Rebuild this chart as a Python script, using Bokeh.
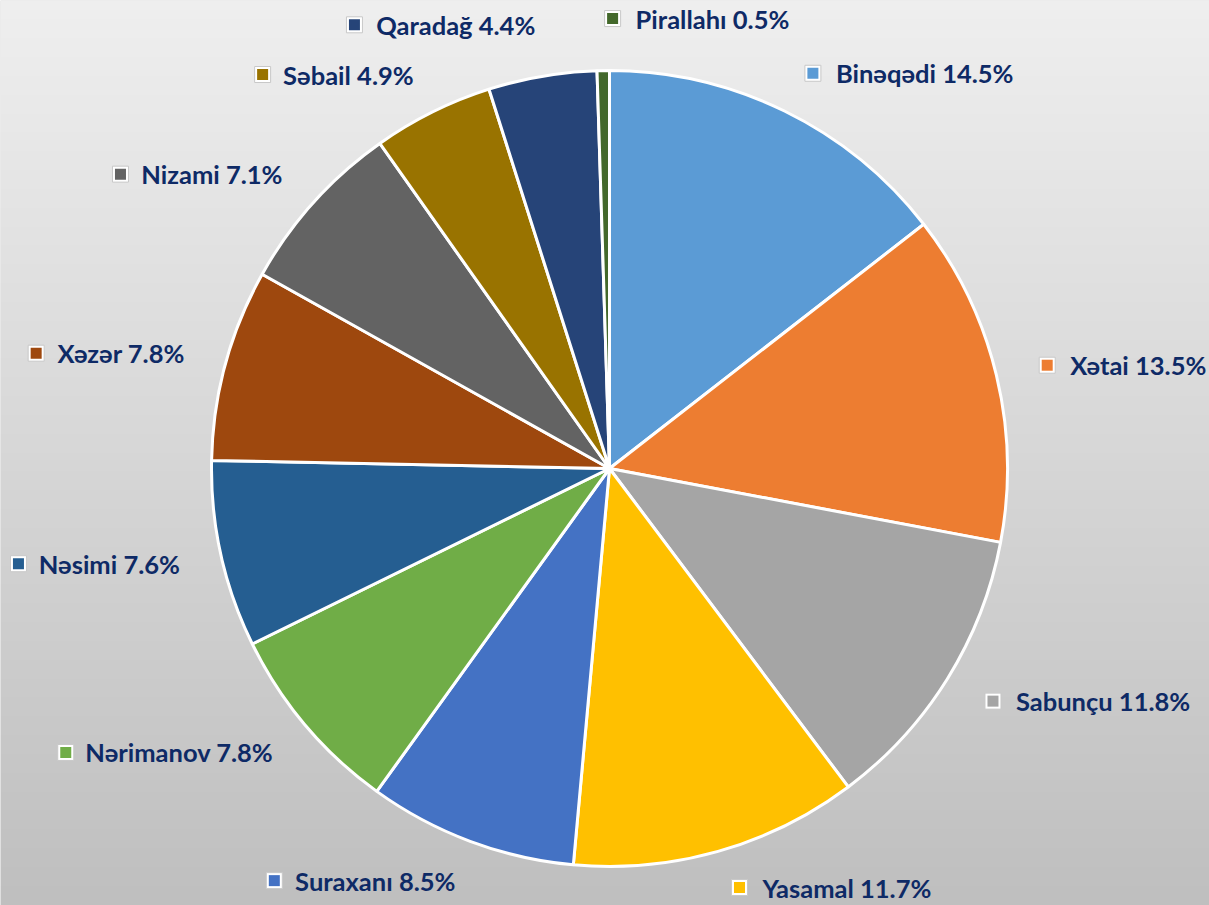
import numpy as np
from bokeh.plotting import figure
from bokeh.models import Range1d, ColumnDataSource
from bokeh.core.properties import value
from bokeh.embed import file_html
from bokeh.resources import INLINE

districts = ["Binəqədi", "Xətai", "Sabunçu", "Yasamal", "Suraxanı", "Nərimanov",
             "Nəsimi", "Xəzər", "Nizami", "Səbail", "Qaradağ", "Pirallahı"]
shares = [14.5, 13.5, 11.8, 11.7, 8.5, 7.8, 7.6, 7.8, 7.1, 4.9, 4.4, 0.5]
colors = ["#5B9BD5", "#ED7D31", "#A5A5A5", "#FFC000", "#4472C4", "#70AD47",
          "#255E91", "#9E480E", "#636363", "#997300", "#264478", "#43682B"]

W, H = 1209, 905
FONT = "Lato"
FS = 25.5
TEXT_COLOR = "#0E2A66"

p = figure(width=W, height=H, x_range=Range1d(0, W), y_range=Range1d(0, H),
           output_backend="svg", toolbar_location=None, min_border=0)
p.axis.visible = False
p.grid.visible = False
p.outline_line_color = None
p.background_fill_color = "#D8D8D8"
p.border_fill_color = "#D8D8D8"

# vertical background gradient
img = np.empty((H, 2), dtype=np.uint32)
view = img.view(dtype=np.uint8).reshape((H, 2, 4))
t = np.linspace(0, 1, H)  # 0 bottom -> 1 top
g = (191 + (239 - 191) * t).astype(np.uint8)
view[:, :, 0] = g[:, None]
view[:, :, 1] = g[:, None]
view[:, :, 2] = g[:, None]
view[:, :, 3] = 255
p.image_rgba(image=[img], x=0, y=0, dw=W, dh=H)

cx, cy, R = 609, 437, 398
vals = np.array(shares, dtype=float)
frac = vals / vals.sum()
cum = np.concatenate([[0], np.cumsum(frac)])
start = np.pi / 2 - 2 * np.pi * cum[:-1]
end = np.pi / 2 - 2 * np.pi * cum[1:]

src = ColumnDataSource(dict(start=start, end=end, color=colors))
p.wedge(x=cx, y=cy, radius=R, start_angle="start", end_angle="end", direction="clock",
        fill_color="color", line_color="white", line_width=3, source=src)

# label layout
CW = {' ': 0.21, '.': 0.24, '%': 0.80, 'i': 0.25, 'ı': 0.25, 'l': 0.25, 'm': 0.84,
      'r': 0.37, 's': 0.43, 't': 0.36, 'z': 0.45, 'c': 0.46, 'ç': 0.46,
      'B': 0.63, 'N': 0.72, 'Q': 0.76, 'P': 0.60, 'S': 0.52, 'X': 0.64, 'Y': 0.60}


def est_width(s):
    w = 0
    for ch in s:
        if ch.isdigit():
            w += 0.58
        else:
            w += CW.get(ch, 0.53)
    return w * FS


RL = 440
labels = [f"{d} {v}%" for d, v in zip(districts, shares)]
tx, ty, ta, mx, my = [], [], [], [], []
mid = (cum[:-1] + cum[1:]) / 2
for lab, m in zip(labels, mid):
    th = 2 * np.pi * m
    s, c = np.sin(th), np.cos(th)
    ax = cx + RL * s
    ay = cy + RL * c
    if c > 0.98:
        ay += 10
    ay = min(max(ay, 18), H - 18)
    if s >= -0.02:
        tx.append(ax + 33)
        ta.append("left")
        mx.append(ax + 10)
    else:
        tx.append(ax)
        ta.append("right")
        mx.append(ax - est_width(lab) - 23)
    ty.append(ay)
    my.append(ay)

lsrc = ColumnDataSource(dict(x=tx, y=ty, text=labels, align=ta, mx=mx, my=my, color=colors))
p.scatter(x="mx", y="my", marker="square", size=16, fill_color="white",
          line_color="#C8C8C8", line_width=1, source=lsrc)
p.scatter(x="mx", y="my", marker="square", size=11, fill_color="color",
          line_color=None, source=lsrc)
p.text(x="x", y="y", text="text", text_align="align", text_baseline="middle",
       text_font=value(FONT), text_font_style="bold", text_font_size=f"{FS}px",
       text_color=TEXT_COLOR, source=lsrc)

open("out.html", "w").write(file_html(p, INLINE))
